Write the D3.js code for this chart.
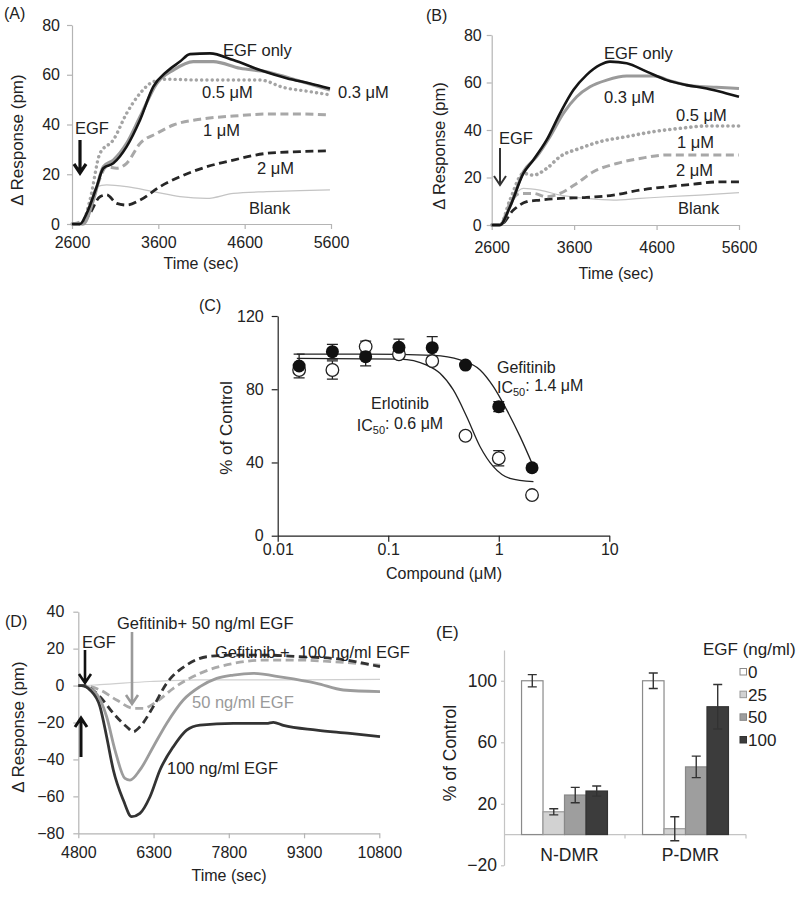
<!DOCTYPE html>
<html>
<head>
<meta charset="utf-8">
<script src="https://cdn.jsdelivr.net/npm/d3@7"></script>
<style>
body { margin: 0; background: #fff; }
svg text { font-family: "Liberation Sans", Arial, Helvetica, sans-serif; fill: #222; }
</style>
</head>
<body>
<svg id="fig" width="800" height="899"></svg>
<script>
// ---- panel A traces: [time (sec), response (pm)]
var aEgfOnly = [[2600,0],[2693,0],[2770,4.3],[2886,15],[2963,22.4],[3079,24.4],[3233,31.1],[3388,41.8],[3542,55.2],[3696,61.2],[3851,65.3],[3967,68.3],[4198,68.6],[4469,65.9],[4778,61.9],[5087,58.6],[5357,56.5],[5588,54.5]];
var aDose03 = [[2600,0],[2731,0],[2847,9.6],[2963,23],[3079,25.7],[3233,32.4],[3388,43.1],[3581,56.5],[3774,61.9],[4005,65.3],[4237,65.3],[4546,62.6],[4855,61.2],[5125,58.6],[5395,55.9],[5588,53.9]];
var aDose05 = [[2600,0],[2712,0],[2808,9.6],[2924,28.4],[3079,33.8],[3233,44.5],[3388,52.5],[3542,57.2],[3696,58.2],[4083,57.9],[4469,57.9],[4778,57.9],[5048,54.9],[5357,53.2],[5588,51.9]];
var aDose1 = [[2600,0],[2731,1.6],[2886,15],[3002,23],[3117,22.4],[3233,24.4],[3388,32.4],[3581,36.4],[3774,39.8],[4083,42.1],[4469,43.4],[4855,44.2],[5241,44.2],[5588,43.8]];
var aDose2 = [[2600,0],[2693,0],[2808,4.3],[2924,11],[3002,11.7],[3117,8.3],[3233,7.6],[3388,9.6],[3619,15],[3851,19],[4160,23],[4469,25.7],[4855,28.4],[5241,29.1],[5588,29.4]];
var aBlank = [[2600,0],[2731,0.3],[2886,15],[3002,15.7],[3233,15],[3542,13],[3851,11],[4160,10.3],[4469,12.3],[4855,13],[5241,13.4],[5588,13.7]];

// ---- panel B traces
var bEgfOnly = [[2600,0],[2701,0],[2822,7.7],[2984,21.7],[3105,27.4],[3267,35.8],[3429,47],[3591,56.8],[3752,63.2],[3914,67.4],[4035,68.8],[4237,68.1],[4480,64.6],[4723,61],[4965,58.9],[5208,57.5],[5450,55.4],[5600,54]];
var bDose03 = [[2600,0],[2701,0],[2822,7.7],[2984,22.4],[3146,28.8],[3307,37.2],[3469,47],[3631,54],[3793,58.2],[3995,61],[4237,62.7],[4561,62.7],[4803,60.3],[5046,58.5],[5329,58],[5600,57.5]];
var bDose05 = [[2600,0],[2701,0],[2822,10.5],[2984,21.7],[3105,21],[3267,23.8],[3429,28.8],[3672,32.3],[3914,35.1],[4237,37.2],[4561,39.3],[4884,40.7],[5208,41.7],[5600,41.7]];
var bDose1 = [[2600,0],[2701,0],[2822,9.1],[2944,13.3],[3105,13.3],[3267,11.9],[3429,13.3],[3631,17.5],[3833,22.4],[4116,25.9],[4399,28],[4723,29.5],[5046,29.5],[5600,29.5]];
var bDose2 = [[2600,0],[2701,0],[2863,6.3],[3025,9.8],[3186,10.5],[3429,11.2],[3752,11.6],[4076,12.6],[4399,14.7],[4723,16.1],[5046,17.2],[5369,18.2],[5600,18.2]];
var bBlank = [[2600,0],[2701,0],[2863,11.9],[2984,15.4],[3186,14.7],[3429,12.6],[3752,11.2],[4076,10.5],[4399,11.2],[4723,11.9],[5127,12.6],[5600,13.6]];

var abTimeTicks = [2600, 3600, 4600, 5600];
var abRespTicks = [0, 20, 40, 60, 80];

// ---- panel C dose response (% of control)
var cConc = [0.015625, 0.03125, 0.0625, 0.125, 0.25, 0.5, 1, 2];
var gefMean = [92.7, 100.5, 97.8, 102.9, 102.7, 93.2, 70.5, 37.1];
var gefErr = [6.5, 4, 5, 4.5, 6, 1.5, 2.7, 1.5];
var erlMean = [90.5, 90.5, 103.3, 99.1, 95.4, 54.6, 42.3, 22.2];
var erlErr = [2, 5, 3, 2, 2, 1.5, 4.2, 1];
// fitted curves: [conc (uM), % of control]
var gefFit = [[0.0149,99.2],[0.0638,99.2],[0.256,98.5],[0.447,96],[0.678,90.5],[0.894,81.4],[1.18,68.7],[1.56,54.1],[2.06,37.7]];
var erlFit = [[0.0149,96.9],[0.128,96.5],[0.223,93.2],[0.294,88.7],[0.388,79.6],[0.513,65],[0.678,48.6],[0.894,37.7],[1.26,31.3],[2.06,29.5]];
var cConcTicks = [0.01, 0.1, 1, 10];
var cPctTicks = [0, 40, 80, 120];

// ---- panel D traces
var d100 = [[4800,0],[4866,0],[5033,-2.4],[5232,-11.4],[5365,-27.7],[5498,-45.7],[5697,-62],[5863,-71],[6029,-69.2],[6229,-60.2],[6428,-45.7],[6694,-33.1],[6960,-24.1],[7225,-21.4],[7890,-20.5],[8554,-20.5],[8687,-19.9],[8887,-21.6],[9551,-24.1],[10216,-25.9],[10814,-27.7]];
var d50 = [[4800,0],[4866,0],[5165,-4.5],[5365,-16.9],[5531,-34.9],[5730,-50.3],[5830,-51.2],[6029,-45.7],[6295,-33.1],[6561,-20.5],[6893,-7.8],[7225,-0.6],[7558,3.9],[7890,5.7],[8289,6.6],[8887,4.4],[9551,1.2],[10083,-2.4],[10814,-3.3]];
var dGef100 = [[4800,0],[4900,0],[5232,-6],[5498,-15],[5764,-22.3],[5897,-25],[6029,-22.3],[6295,-11.4],[6561,1.2],[6960,11.1],[7358,15.6],[7890,16.5],[8554,16.5],[9219,15.6],[9883,14.7],[10814,10.2]];
var dGef50 = [[4800,0],[4900,0],[5232,-2.4],[5564,-7.8],[5897,-12.3],[6096,-12.3],[6361,-8.7],[6694,-1.5],[7225,6.6],[7890,12],[8554,13.8],[9219,13.8],[9883,12.9],[10814,11.1]];
var dBlank = [[4800,0],[4866,0],[5232,0.5],[6229,2.2],[7225,3.1],[9219,3.1],[10814,3.4]];
var dTimeTicks = [4800, 6300, 7800, 9300, 10800];
var dRespTicks = [-80, -60, -40, -20, 0, 20, 40];

// ---- panel E bars
var eCategories = ["N-DMR", "P-DMR"];
var eDoses = ["0", "25", "50", "100"];
var eValues = [[100, 14.8, 25.7, 28.3], [100, 3.8, 44, 83.1]];
var eErrors = [[4, 2, 5, 3.3], [5, 7.8, 7, 14.5]];
var ePctTicks = [-20, 20, 60, 100];

var svg = d3.select("#fig");
var AXIS_GRAY = "#b4b4b4";

function styleAxis(sel, color, size) {
  sel.attr("font-family", null).attr("font-size", null);
  sel.select(".domain").attr("stroke", color).attr("stroke-width", 1.2);
  sel.selectAll(".tick line").attr("stroke", color).attr("stroke-width", 1.2);
  sel.selectAll(".tick text").attr("fill", "#222").style("font-size", size + "px");
}

function text(g, s, x, y, size, anchor, color) {
  return g.append("text").attr("x", x).attr("y", y).attr("dy", "0.35em")
    .attr("text-anchor", anchor || "start")
    .style("font-size", size + "px")
    .style("fill", color || "#222")
    .style("white-space", "pre")
    .text(s);
}

function yTitle(g, s, x, y, size) {
  g.append("text").attr("transform", "translate(" + x + "," + y + ") rotate(-90)")
    .attr("dy", "0.35em").attr("text-anchor", "middle")
    .style("font-size", size + "px").text(s);
}

function arrow(g, x, y1, y2, color, w) {
  var dir = y2 > y1 ? 1 : -1, h = 9, hw = 6;
  g.append("path")
    .attr("d", "M" + x + "," + y1 + "L" + x + "," + y2 +
      "M" + (x - hw) + "," + (y2 - dir * h) + "L" + x + "," + y2 + "L" + (x + hw) + "," + (y2 - dir * h))
    .attr("fill", "none").attr("stroke", color).attr("stroke-width", w);
}

// generic time-trace panel
function linePanel(o) {
  var g = svg.append("g");
  var x = d3.scaleLinear().domain(o.xDomain).range(o.xRange);
  var y = d3.scaleLinear().domain(o.yDomain).range(o.yRange);

  var gx = g.append("g").attr("transform", "translate(0," + o.yRange[0] + ")")
    .call(d3.axisBottom(x).tickValues(o.xTicks).tickFormat(d3.format("d"))
      .tickSize(5).tickSizeOuter(0).tickPadding(o.xPad));
  styleAxis(gx, AXIS_GRAY, 16);
  var gy = g.append("g").attr("transform", "translate(" + o.xRange[0] + ",0)")
    .call(d3.axisLeft(y).tickValues(o.yTicks).tickSize(5).tickSizeOuter(0).tickPadding(o.yPad));
  styleAxis(gy, AXIS_GRAY, 16);

  var line = d3.line().x(function(d){ return x(d[0]); }).y(function(d){ return y(d[1]); })
    .curve(d3.curveMonotoneX);
  o.series.forEach(function(s) {
    g.append("path").datum(s.data).attr("d", line)
      .attr("fill", "none").attr("stroke", s.color).attr("stroke-width", s.width)
      .attr("stroke-dasharray", s.dash || null)
      .attr("stroke-linecap", s.cap || "butt");
  });
  return g;
}

var DOT = "0.1,5.2", DASH = "8,4.5";

// ---------------- (A)
var gA = linePanel({
  xDomain: [2600, 5600], xRange: [72, 331], yDomain: [0, 80], yRange: [224, 25],
  xTicks: abTimeTicks, yTicks: abRespTicks, xPad: 8, yPad: 7,
  series: [
    {data: aBlank, color: "#c4c4c4", width: 1.2},
    {data: aDose2, color: "#262626", width: 2.8, dash: DASH},
    {data: aDose1, color: "#a8a8a8", width: 3, dash: DASH},
    {data: aDose05, color: "#a4a4a4", width: 3.4, dash: DOT, cap: "round"},
    {data: aDose03, color: "#9a9a9a", width: 3.2},
    {data: aEgfOnly, color: "#151515", width: 2.6}
  ]
});
text(gA, "(A)", 4, 13, 16);
yTitle(gA, "\u0394 Response (pm)", 17, 140, 17);
text(gA, "Time (sec)", 201, 263, 16, "middle");
text(gA, "EGF only", 223, 50, 16.5);
text(gA, "0.3 \u03bcM", 338, 92, 16.5);
text(gA, "0.5 \u03bcM", 202, 92, 16.5);
text(gA, "1 \u03bcM", 203, 130, 16.5);
text(gA, "2 \u03bcM", 257, 168, 16.5);
text(gA, "Blank", 249, 208, 16.5);
text(gA, "EGF", 75, 128, 16.5);
arrow(gA, 80, 140, 173, "#111", 3.2);

// ---------------- (B)
var gB = linePanel({
  xDomain: [2600, 5600], xRange: [491.7, 739], yDomain: [0, 80], yRange: [225, 35],
  xTicks: abTimeTicks, yTicks: abRespTicks, xPad: 12, yPad: 5,
  series: [
    {data: bBlank, color: "#c4c4c4", width: 1.2},
    {data: bDose2, color: "#262626", width: 2.8, dash: DASH},
    {data: bDose1, color: "#a8a8a8", width: 3, dash: DASH},
    {data: bDose05, color: "#a4a4a4", width: 3.6, dash: DOT, cap: "round"},
    {data: bDose03, color: "#9a9a9a", width: 3},
    {data: bEgfOnly, color: "#151515", width: 2.6}
  ]
});
text(gB, "(B)", 426, 15, 16);
yTitle(gB, "\u0394 Response (pm)", 439, 146, 16.5);
text(gB, "Time (sec)", 616, 273, 16, "middle");
text(gB, "EGF only", 604, 53, 16.5);
text(gB, "0.3 \u03bcM", 604, 97, 16.5);
text(gB, "0.5 \u03bcM", 676, 115, 16.5);
text(gB, "1 \u03bcM", 677, 142, 16.5);
text(gB, "2 \u03bcM", 676, 170, 16.5);
text(gB, "Blank", 678, 208, 16.5);
text(gB, "EGF", 499, 138, 16.5);
arrow(gB, 500, 148, 185, "#333", 2);

// ---------------- (C)
var gC = svg.append("g");
var cx = d3.scaleLog().domain([0.01, 10]).range([277.7, 609.3]);
var cy = d3.scaleLinear().domain([0, 120]).range([535.7, 316]);
var gcx = gC.append("g").attr("transform", "translate(0," + cy(0) + ")")
  .call(d3.axisBottom(cx).tickValues(cConcTicks).tickFormat(function(d){ return String(d); })
    .tickSize(6).tickSizeOuter(0).tickPadding(2));
styleAxis(gcx, "#222", 16);
var gcy = gC.append("g").attr("transform", "translate(" + cx(0.01) + ",0)")
  .call(d3.axisLeft(cy).tickValues(cPctTicks).tickSize(6).tickSizeOuter(0).tickPadding(8));
styleAxis(gcy, "#222", 16);

var cLine = d3.line().x(function(d){ return cx(d[0]); }).y(function(d){ return cy(d[1]); })
  .curve(d3.curveMonotoneX);
[gefFit, erlFit].forEach(function(f) {
  gC.append("path").datum(f).attr("d", cLine).attr("fill", "none")
    .attr("stroke", "#222").attr("stroke-width", 1.3);
});

function errBars(g, xs, ms, es) {
  xs.forEach(function(c, i) {
    var px = cx(c), t = cy(ms[i] + es[i]), b = cy(ms[i] - es[i]);
    g.append("path").attr("d", "M" + px + "," + t + "L" + px + "," + b +
      "M" + (px - 5.5) + "," + t + "L" + (px + 5.5) + "," + t +
      "M" + (px - 5.5) + "," + b + "L" + (px + 5.5) + "," + b)
      .attr("stroke", "#222").attr("stroke-width", 1.3).attr("fill", "none");
  });
}
errBars(gC, cConc, erlMean, erlErr);
errBars(gC, cConc, gefMean, gefErr);
gC.selectAll("circle.erl").data(cConc).enter().append("circle").attr("class", "erl")
  .attr("cx", function(d){ return cx(d); }).attr("cy", function(d, i){ return cy(erlMean[i]); })
  .attr("r", 6.3).attr("fill", "#fff").attr("stroke", "#222").attr("stroke-width", 1.3);
gC.selectAll("circle.gef").data(cConc).enter().append("circle").attr("class", "gef")
  .attr("cx", function(d){ return cx(d); }).attr("cy", function(d, i){ return cy(gefMean[i]); })
  .attr("r", 6.5).attr("fill", "#111");

text(gC, "(C)", 199, 305, 16);
yTitle(gC, "% of Control", 226, 428, 17);
text(gC, "Compound (\u03bcM)", 444, 573, 16, "middle");
text(gC, "Gefitinib", 497, 367, 16);
var ic1 = text(gC, "IC", 497, 387, 16);
ic1.append("tspan").attr("dy", "0.3em").style("font-size", "11px").text("50");
ic1.append("tspan").attr("dy", "-0.3em").text(": 1.4 \u03bcM");
text(gC, "Erlotinib", 400, 403, 16, "middle");
var ic2 = text(gC, "IC", 400, 425, 16, "middle");
ic2.append("tspan").attr("dy", "0.3em").style("font-size", "11px").text("50");
ic2.append("tspan").attr("dy", "-0.3em").text(": 0.6 \u03bcM");

// ---------------- (D)
var gD = linePanel({
  xDomain: [4800, 10800], xRange: [78.3, 379.3], yDomain: [-80, 40], yRange: [833.3, 611.7],
  xTicks: dTimeTicks, yTicks: dRespTicks, xPad: 8, yPad: 9,
  series: [
    {data: dBlank, color: "#cfcfcf", width: 1.2},
    {data: dGef50, color: "#aaaaaa", width: 2.8, dash: DASH},
    {data: dGef100, color: "#333", width: 2.8, dash: DASH},
    {data: d50, color: "#9c9c9c", width: 2.8},
    {data: d100, color: "#333", width: 2.8}
  ]
});
text(gD, "(D)", 5, 621, 16);
yTitle(gD, "\u0394 Response (pm)", 18, 727, 17);
text(gD, "Time (sec)", 229, 875, 16, "middle");
text(gD, "Gefitinib+ 50 ng/ml EGF", 117, 623, 16.5);
text(gD, "Gefitinib +  100 ng/ml EGF", 215, 652, 16.5);
text(gD, "50 ng/ml EGF", 192, 702, 16.5, "start", "#9a9a9a");
text(gD, "100 ng/ml EGF", 167, 768, 16.5);
text(gD, "EGF", 82, 642, 16.5);
arrow(gD, 85, 650, 683, "#111", 2.6);
arrow(gD, 81, 757, 718, "#111", 3);
arrow(gD, 132, 632, 704, "#9a9a9a", 2.6);

// ---------------- (E)
var gE = svg.append("g");
var ex0 = d3.scaleBand().domain(eCategories).range([504, 746]).paddingInner(0.29).paddingOuter(0.145);
var ex1 = d3.scaleBand().domain(eDoses).range([0, ex0.bandwidth()]);
var ey = d3.scaleLinear().domain([-20, 120]).range([865.3, 650]);
var eFill = d3.scaleOrdinal().domain(eDoses).range(["#ffffff", "#d2d2d2", "#9e9e9e", "#3c3c3c"]);
var eStroke = d3.scaleOrdinal().domain(eDoses).range(["#8a8a8a", "#9a9a9a", "#888", "#333"]);

var gey = gE.append("g").attr("transform", "translate(504,0)")
  .call(d3.axisLeft(ey).tickValues(ePctTicks).tickSize(3).tickSizeOuter(0).tickPadding(4));
styleAxis(gey, "#c4c4c4", 17.5);

// baseline at 0 with ticks at the category boundaries
var step = ex0.step();
var eBounds = eCategories.map(function(c){ return ex0(c) + ex0.bandwidth() + step * 0.145; });
gE.append("line").attr("x1", 504).attr("x2", 746).attr("y1", ey(0)).attr("y2", ey(0))
  .attr("stroke", "#c4c4c4").attr("stroke-width", 1.2);
eBounds.forEach(function(b) {
  gE.append("line").attr("x1", b).attr("x2", b).attr("y1", ey(0)).attr("y2", ey(0) + 4)
    .attr("stroke", "#c4c4c4").attr("stroke-width", 1.2);
});

eCategories.forEach(function(cat, ci) {
  var grp = gE.append("g").attr("transform", "translate(" + ex0(cat) + ",0)");
  eDoses.forEach(function(dose, di) {
    var v = eValues[ci][di];
    grp.append("rect").attr("x", ex1(dose)).attr("width", ex1.bandwidth())
      .attr("y", ey(Math.max(v, 0))).attr("height", Math.abs(ey(v) - ey(0)))
      .attr("fill", eFill(dose)).attr("stroke", eStroke(dose)).attr("stroke-width", 1.2);
  });
  eDoses.forEach(function(dose, di) {
    var v = eValues[ci][di], e = eErrors[ci][di];
    var px = ex1(dose) + ex1.bandwidth() / 2, t = ey(v + e), b = ey(v - e);
    grp.append("path").attr("d", "M" + px + "," + t + "L" + px + "," + b +
      "M" + (px - 4.5) + "," + t + "L" + (px + 4.5) + "," + t +
      "M" + (px - 4.5) + "," + b + "L" + (px + 4.5) + "," + b)
      .attr("stroke", "#333").attr("stroke-width", 1.4).attr("fill", "none");
  });
  text(gE, cat, ex0(cat) + ex0.bandwidth() / 2 + 5, 855, 17.5, "middle");
});

text(gE, "(E)", 436, 632, 17);
yTitle(gE, "% of Control", 450, 753, 17.5);
text(gE, "EGF (ng/ml)", 703, 649, 17);
var legY = d3.scalePoint().domain(eDoses).range([672, 740]);
eDoses.forEach(function(dose) {
  gE.append("rect").attr("x", 740).attr("y", legY(dose) - 3.5).attr("width", 6.5).attr("height", 6.5)
    .attr("fill", eFill(dose)).attr("stroke", eStroke(dose)).attr("stroke-width", 1);
  text(gE, dose, 748, legY(dose), 17);
});
</script>
</body>
</html>
